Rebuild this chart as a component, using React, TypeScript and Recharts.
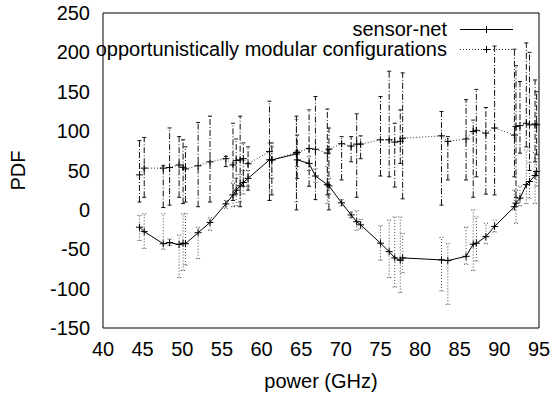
import { LineChart, Line, XAxis, YAxis, ErrorBar } from 'recharts';

// x positions shared by both series (GHz)
const power = [
  44.6, 45.2, 47.6, 48.4, 49.6, 50.1, 50.4, 52.0, 53.5, 55.5, 56.4, 56.8, 57.3, 57.7, 58.3,
  61.0, 61.3, 64.4, 64.5, 66.0, 66.8, 68.3, 68.5, 70.1, 71.3, 72.0, 72.5, 75.0, 76.1, 76.8,
  77.5, 77.8, 82.7, 83.5, 85.8, 86.7, 87.1, 88.3, 89.4, 91.9, 92.1, 92.6, 93.4, 93.8, 94.5, 94.7,
];

// sensor-net: value, lower and upper error bounds
const sensorNet = [
  -22, -27.6, -43, -41.5, -44, -42.3, -43, -29, -16, 7.6, 19, 25, 30.5, 34.7, 40,
  63.5, 63.5, 71, 63.5, 59, 43, 32, 30.5, 9, -6.4, -15, -19, -42.3, -53, -61,
  -64, -61, -63.5, -64.4, -59, -43.6, -42.3, -34, -21, 4, 8.5, 15, 32, 36, 43.6, 48.7,
];
const sensorLow = [
  -39, -49, -50, -45, -86, -77, -70, -62, -26, 2, 4, 5, 10, 20, 30,
  12, 40, 10, 55, 50, 35, 8, 20, 5, -10, -26, -24, -64, -86, -98,
  -105, -80, -103, -120, -69, -77, -65, -43, -28, 0, -17, 5, 8, 15, 8, 30,
];
const sensorHigh = [
  -7, -5, -5, -37, -32, -5, -5, -22, -10, 12, 34, 40, 45, 50, 50,
  85, 80, 115, 75, 68, 52, 55, 40, 13, -3, -1, -12, -20, -13, -9,
  -9, -30, -35, -43, -22, 0, -9, -17, -13, 25, 25, 30, 76, 60, 73, 65,
];

// opportunistically modular configurations
const opportunistic = [
  44.5, 53, 53, 53.7, 57, 54, 52, 56, 61, 65, 57, 62.6, 63.5, 65, 58.6,
  74, 63.5, 73, 73, 78, 77, 72, 77, 84, 81, 83.5, 83.5, 89, 89, 86,
  87, 91, 94, 87, 90, 99.5, 101, 97.5, 104, 95, 106, 107, 110, 108, 109, 108,
];
const oppLow = [
  10, 16, 3, 6, 16, 8, 10, 4, 10, 55, 12, 20, 4, 30, 25,
  12, 19, 0, 40, 30, 13, 19, 0, 38, 61, 16, 65, 43, 42, 29,
  59, 14, 6, 38, 38, 16, 42, 20, 19, 42, 16, 72, 80, 50, 61, 70,
];
const oppHigh = [
  88, 92, 56, 104, 93, 89, 80, 111, 119, 68, 110, 90, 119, 85, 80,
  138, 85, 119, 95, 127, 144, 128, 104, 93, 93, 122, 94, 144, 176, 110,
  127, 174, 125, 93, 140, 114, 153, 130, 208, 204, 183, 163, 212, 200, 165, 150,
];

const xTicks = [40, 45, 50, 55, 60, 65, 70, 75, 80, 85, 90, 95];
const yTicks = [-150, -100, -50, 0, 50, 100, 150, 200, 250];

const data = power.map((x, i) => ({
  x,
  s: sensorNet[i],
  sErr: [Math.max(0, sensorNet[i] - sensorLow[i]), Math.max(0, sensorHigh[i] - sensorNet[i])],
  o: opportunistic[i],
  oErr: [Math.max(0, opportunistic[i] - oppLow[i]), Math.max(0, oppHigh[i] - opportunistic[i])],
}));

const FONT = '"Liberation Sans", Arial, Helvetica, sans-serif';
const tickStyle = { fontSize: 20, fill: '#000', fontFamily: FONT };

const plus = (props: any) => {
  const { cx, cy, index } = props;
  if (cx == null || cy == null) return <g key={index} />;
  return (
    <path
      key={index}
      d={`M${cx - 3.5},${cy}H${cx + 3.5}M${cx},${cy - 3.5}V${cy + 3.5}`}
      stroke="#000"
      strokeWidth={1}
      fill="none"
    />
  );
};

export default function App() {
  return (
    <div style={{ position: 'absolute', left: 0, top: 0, width: 554, height: 397, background: '#fff' }}>
      <LineChart width={554} height={397} data={data} margin={{ top: 13, right: 15, bottom: 0, left: 0 }}>
        <XAxis
          dataKey="x"
          type="number"
          domain={[40, 95]}
          ticks={xTicks}
          height={69}
          tickLine={false}
          tickSize={0}
          tickMargin={14}
          stroke="#000"
          tick={tickStyle}
          label={{ value: 'power (GHz)', position: 'insideBottom', offset: 9, style: { fontSize: 20, fontFamily: FONT, fill: '#000' } }}
        />
        <XAxis xAxisId="bottomTicks" type="number" domain={[40, 95]} ticks={xTicks} orientation="bottom" mirror tick={false} axisLine={false} tickSize={5} stroke="#000" />
        <XAxis xAxisId="topTicks" type="number" domain={[40, 95]} ticks={xTicks} orientation="top" mirror tick={false} tickSize={5} stroke="#000" />
        <YAxis
          type="number"
          domain={[-150, 250]}
          ticks={yTicks}
          width={103}
          tickLine={false}
          tickSize={0}
          tickMargin={13}
          stroke="#000"
          tick={tickStyle}
          label={{ value: 'PDF', angle: -90, position: 'insideLeft', offset: 18, style: { textAnchor: 'middle', fontSize: 20, fontFamily: FONT, fill: '#000' } }}
        />
        <YAxis yAxisId="leftTicks" type="number" domain={[-150, 250]} ticks={yTicks} orientation="left" mirror tick={false} axisLine={false} tickSize={5} stroke="#000" />
        <YAxis yAxisId="rightTicks" type="number" domain={[-150, 250]} ticks={yTicks} orientation="right" mirror tick={false} tickSize={5} stroke="#000" />
        <Line
          dataKey="s"
          name="sensor-net"
          type="linear"
          stroke="#000"
          strokeWidth={1}
          dot={plus}
          activeDot={false}
          isAnimationActive={false}
        >
          <ErrorBar dataKey="sErr" direction="y" width={2} stroke="#444" strokeWidth={1} strokeDasharray="1 2" isAnimationActive={false} />
        </Line>
        <Line
          dataKey="o"
          name="opportunistically modular configurations"
          type="linear"
          stroke="#333"
          strokeWidth={1}
          strokeDasharray="1 2"
          dot={plus}
          activeDot={false}
          isAnimationActive={false}
        >
          <ErrorBar dataKey="oErr" direction="y" width={2} stroke="#111" strokeWidth={1} strokeDasharray="6 2 1 2" isAnimationActive={false} />
        </Line>
      </LineChart>
      <svg
        width={554}
        height={397}
        style={{ position: 'absolute', left: 0, top: 0, pointerEvents: 'none' }}
      >
        <g fontFamily={FONT} fontSize={20} fill="#000" textAnchor="end">
          <text x={447} y={36}>sensor-net</text>
          <text x={447} y={55.5}>opportunistically modular configurations</text>
        </g>
        <line x1={460} y1={29.5} x2={513} y2={29.5} stroke="#000" strokeWidth={1} />
        <path d="M483,29.5H490M486.5,26V33" stroke="#000" strokeWidth={1} />
        <line x1={460} y1={49.5} x2={513} y2={49.5} stroke="#333" strokeWidth={1} strokeDasharray="1 2" />
        <path d="M483,49.5H490M486.5,46V53" stroke="#000" strokeWidth={1} />
      </svg>
    </div>
  );
}
